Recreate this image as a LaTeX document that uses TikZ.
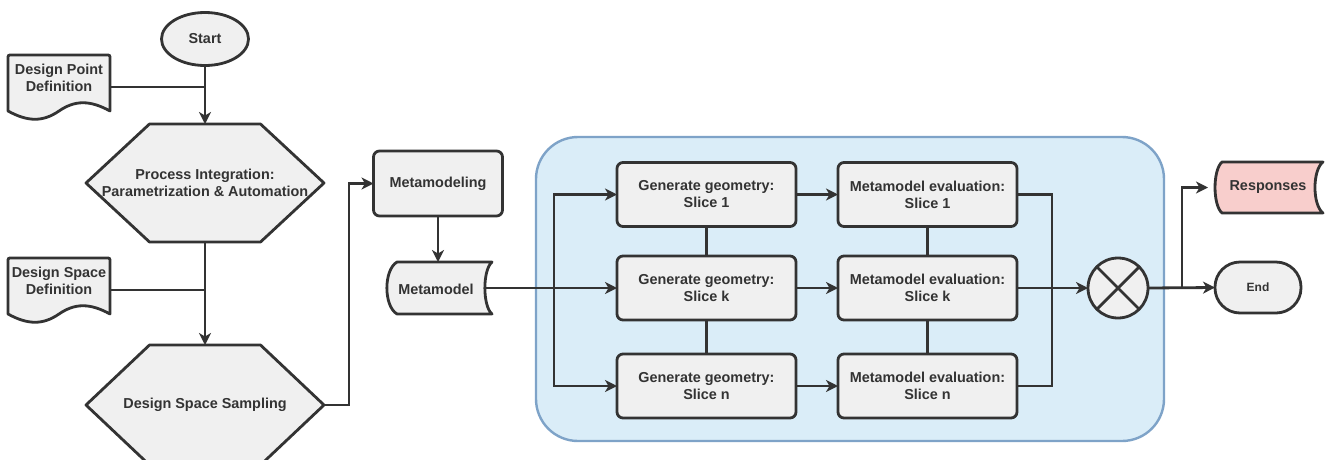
\documentclass[tikz,border=0pt]{standalone}
\usepackage{fontspec}
\setmainfont{Liberation Sans}
\usetikzlibrary{arrows.meta,shapes.geometric,calc}
\definecolor{lineC}{HTML}{333333}
\definecolor{fillG}{HTML}{F0F0F0}
\definecolor{boxB}{HTML}{DAEDF8}
\definecolor{boxE}{HTML}{7EA3C8}
\definecolor{pinkF}{HTML}{F8CECC}
\tikzset{
  txt/.style={align=center, text=lineC, font=\fontsize{14.4}{17}\selectfont\bfseries, inner sep=0pt},
  small/.style={align=center, text=lineC, font=\fontsize{12}{14}\selectfont\bfseries, inner sep=0pt},
  shp/.style={draw=lineC, fill=fillG, line width=2.8pt, line join=round},
  frame/.style={inner sep=0pt, outer sep=0pt},
  procbox/.style={shp, rounded corners=6pt, minimum width=179pt, minimum height=64pt, inner sep=0pt, outer sep=0pt, txt},
  conn/.style={draw=lineC, line width=2.8pt},
  arr/.style={conn, -{Stealth[length=12pt, width=12pt, inset=3.5pt]}},
}
\begin{document}
\begin{tikzpicture}[x=1pt, y=-1pt]
\useasboundingbox (0,0) rectangle (1331,459);
\begin{scope}
\clip (0,0) rectangle (1331,459);
\fill[white] (0,0) rectangle (1331,459);

% container
\draw[fill=boxB, draw=boxE, line width=2.4pt, rounded corners=42pt] (536,137) rectangle (1164,441);

% Start
\node (start) [shp, ellipse, minimum width=87pt, minimum height=53pt, inner sep=0pt, outer sep=0pt, txt] at (205,39) {Start};

% Design Point Definition (document)
\node (dpd) [frame, minimum width=102pt, minimum height=64pt] at (59,87) {};
\draw[shp] (8,111) -- (8,59) .. controls (8,55) .. (12,55) -- (106,55) .. controls (110,55) .. (110,59) -- (110,111)
   .. controls (90,100) and (75,100) .. (59,111) .. controls (43,122) and (28,122) .. cycle;
\node (dpdt) [txt] at (59,78) {Design Point\\Definition};

% Hexagon 1
\node (hex1) [frame, minimum width=238pt, minimum height=118pt] at (205,183) {};
\draw[shp] (hex1.west) -- ([xshift=-55.5pt]hex1.north) -- ([xshift=55.5pt]hex1.north) -- (hex1.east)
   -- ([xshift=55.5pt]hex1.south) -- ([xshift=-55.5pt]hex1.south) -- cycle;
\node (hex1t) [txt] at (205,183) {Process Integration:\\Parametrization \& Automation};

% Design Space Definition (document)
\node (dsd) [frame, minimum width=102pt, minimum height=64pt] at (59,290) {};
\draw[shp] (8,314) -- (8,262) .. controls (8,258) .. (12,258) -- (106,258) .. controls (110,258) .. (110,262) -- (110,314)
   .. controls (90,303) and (75,303) .. (59,314) .. controls (43,325) and (28,325) .. cycle;
\node (dsdt) [txt] at (59,281) {Design Space\\Definition};

% Hexagon 2
\node (hex2) [frame, minimum width=238pt, minimum height=120pt] at (205,405) {};
\draw[shp] (hex2.west) -- ([xshift=-55.5pt]hex2.north) -- ([xshift=55.5pt]hex2.north) -- (hex2.east)
   -- ([xshift=55.5pt]hex2.south) -- ([xshift=-55.5pt]hex2.south) -- cycle;
\node (hex2t) [txt] at (205,405) {Design Space Sampling};

% Metamodeling
\node (mmg) [shp, rounded corners=6pt, minimum width=129pt, minimum height=65pt, inner sep=0pt, outer sep=0pt, txt] at (438,183.5) {Metamodeling};

% Metamodel (stored data)
\node (mm) [frame, minimum width=105pt, minimum height=52pt] at (439.5,288) {};
\draw[shp] (397,262) -- (492,262) .. controls (482.5,270) and (482.5,306) .. (492,314)
   -- (397,314) .. controls (383.5,306) and (383.5,270) .. cycle;
\node (mmt) [txt] at (436,289) {Metamodel};

% Generate geometry boxes
\node (g1) [procbox] at (706.5,194.5) {Generate geometry:\\Slice 1};
\node (gk) [procbox] at (706.5,288) {Generate geometry:\\Slice k};
\node (gn) [procbox] at (706.5,386) {Generate geometry:\\Slice n};

% Metamodel evaluation boxes
\node (e1) [procbox] at (927.5,194.5) {Metamodel evaluation:\\Slice 1};
\node (ek) [procbox] at (927.5,288) {Metamodel evaluation:\\Slice k};
\node (en) [procbox] at (927.5,386) {Metamodel evaluation:\\Slice n};

% Combination circle
\node (cx) [shp, circle, minimum size=60pt, inner sep=0pt, outer sep=0pt] at (1118,288) {};
\draw[conn] (cx.north west) -- (cx.south east);
\draw[conn] (cx.north east) -- (cx.south west);

% Responses (stored data)
\node (resp) [frame, minimum width=108pt, minimum height=51pt] at (1269,187.5) {};
\draw[shp, fill=pinkF] (1222,162) -- (1323,162) .. controls (1312.3,170) and (1312.3,205) .. (1323,213)
   -- (1222,213) .. controls (1212.7,205) and (1212.7,170) .. cycle;
\node (respt) [txt] at (1268,187.5) {Responses};

% End
\node (endn) [shp, rounded corners=25pt, minimum width=86pt, minimum height=51pt, inner sep=0pt, outer sep=0pt, small] at (1258,287.5) {End};

% Connectors
\draw[arr] (start.south) -- (hex1.north);
\draw[conn] (dpd.east) -- (dpd.east -| start.south);
\draw[arr] (hex1.south) -- (hex2.north);
\draw[conn] (dsd.east) -- (dsd.east -| hex1.south);
\draw[arr] (hex2.east) -- ++(25,0) |- (mmg.west);
\draw[arr] (mmg.south) -- (mmg.south |- mm.north);
\coordinate (br) at (554,288);
\draw[arr] ([xshift=-7pt]mm.east) -- (gk.west);
\draw[arr] (br) |- (g1.west);
\draw[arr] (br) |- (gn.west);
\draw[conn] (g1.south) -- (gk.north);
\draw[conn] (gk.south) -- (gn.north);
\draw[conn] (e1.south) -- (ek.north);
\draw[conn] (ek.south) -- (en.north);
\draw[arr] (g1.east) -- (e1.west);
\draw[arr] (gk.east) -- (ek.west);
\draw[arr] (gn.east) -- (en.west);
\draw[conn] (e1.east) -- ++(35,0) |- (en.east);
\draw[arr] (ek.east) -- (cx.west);
\draw[arr] (cx.east) -- (endn.west);
\draw[arr] (cx.east) -- ++(34,0) |- ([xshift=-7pt]resp.west);
\end{scope}
\end{tikzpicture}
\end{document}
